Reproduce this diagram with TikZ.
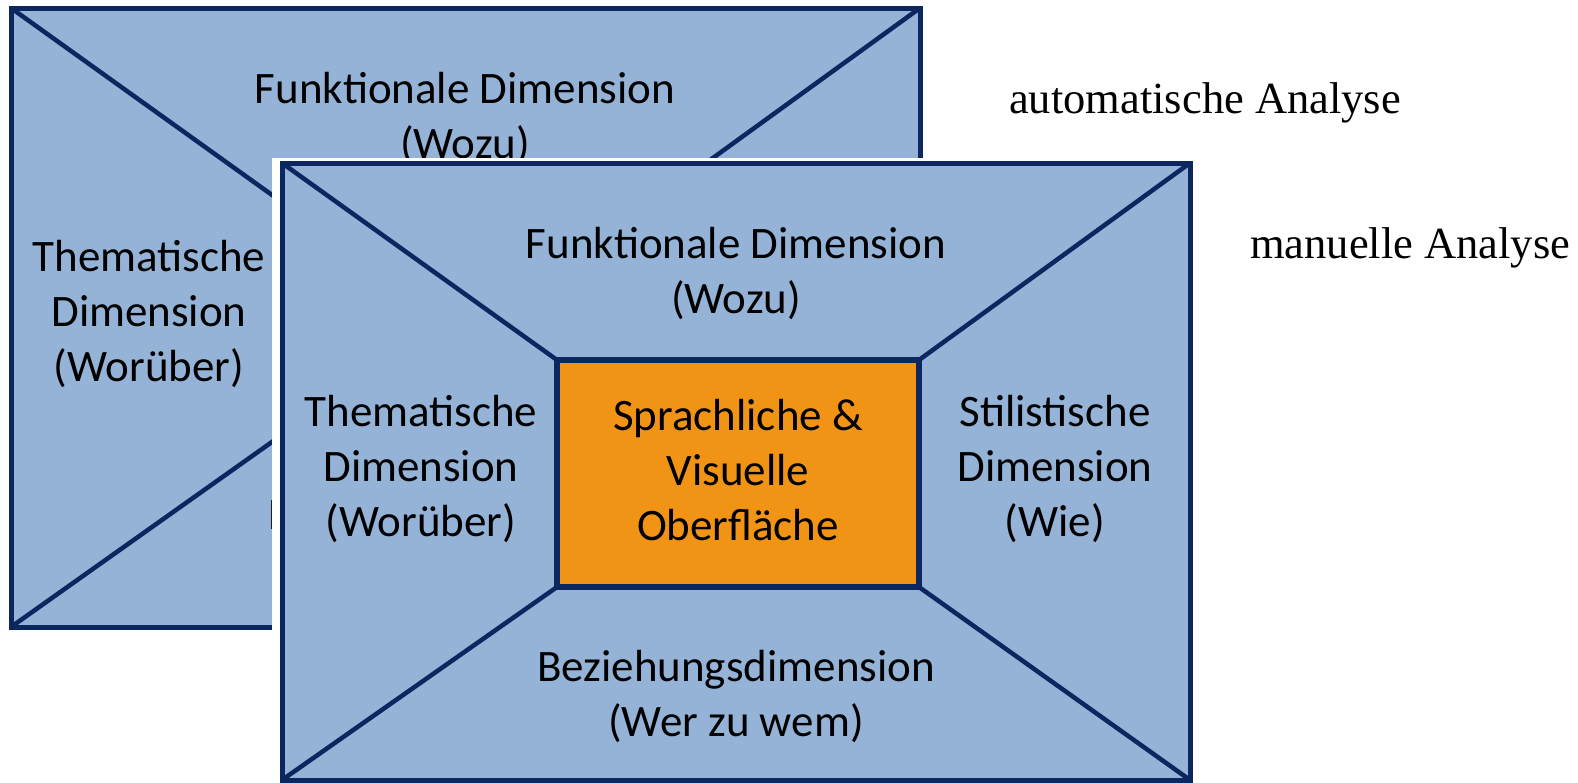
\documentclass[tikz,border=0pt]{standalone}
\usepackage{fontspec}
\setmainfont{Carlito}
\newfontfamily\labelfont{Liberation Serif}
\definecolor{dimfill}{RGB}{149,179,215}
\definecolor{dimline}{RGB}{12,38,96}
\definecolor{corefill}{RGB}{241,148,22}
\tikzset{
  frame/.style={draw=dimline, line width=5pt, fill=dimfill, inner sep=0pt, outer sep=0pt},
  coresize/.style={minimum width=362pt, minimum height=227pt, inner sep=0pt, outer sep=0pt},
  core/.style={draw=dimline, line width=5.5pt, fill=corefill},
  spoke/.style={draw=dimline, line width=4.5pt},
  dimtext/.style={align=center, font=\fontsize{45}{55}\selectfont, inner sep=0pt},
  sidelabel/.style={anchor=base west, font=\labelfont\fontsize{44.5}{50}\selectfont, inner sep=0pt}
}
\begin{document}
\begin{tikzpicture}[x=1pt, y=-1pt]
\useasboundingbox (0,0) rectangle (1578,782);

% rear diagram (automatic analysis)
\node[frame, minimum width=909pt, minimum height=619pt] (bo) at (465.5,317.5) {};
\node[coresize] (bi) at (467,318.5) {};
\draw[spoke] (bo.north west) -- (bi.north west);
\draw[spoke] (bo.north east) -- (bi.north east);
\draw[spoke] (bo.south west) -- (bi.south west);
\draw[spoke] (bo.south east) -- (bi.south east);
\draw[core] (bi.north west) rectangle (bi.south east);
\node[dimtext] (btop) at (465,118) {Funktionale Dimension\\(Wozu)};
\node[dimtext] (bleft) at (149,314) {Thematische\\Dimension\\(Worüber)};
\begin{scope}
  \clip (0,0) rectangle (272,782);
  \node[dimtext] (bbot) at (467,544) {Beziehungsdimension\\(Wer zu wem)};
\end{scope}

% white backing of the front diagram
\fill[white] (272,158) rectangle (1200,790);

% front diagram (manual analysis)
\node[frame, minimum width=908pt, minimum height=617pt] (fo) at (736,471.5) {};
\node[coresize] (fi) at (738,473.5) {};
\draw[spoke] (fo.north west) -- (fi.north west);
\draw[spoke] (fo.north east) -- (fi.north east);
\draw[spoke] (fo.south west) -- (fi.south west);
\draw[spoke] (fo.south east) -- (fi.south east);
\draw[core] (fi.north west) rectangle (fi.south east);
\node[dimtext] (fcore) at (738,470) {Sprachliche \&\\Visuelle\\Oberfläche};
\node[dimtext] (ftop) at (736,273) {Funktionale Dimension\\(Wozu)};
\node[dimtext] (fleft) at (421,469) {Thematische\\Dimension\\(Worüber)};
\node[dimtext] (fright) at (1055,469) {Stilistische\\Dimension\\(Wie)};
\node[dimtext] (fbot) at (736,696) {Beziehungsdimension\\(Wer zu wem)};

% labels of the two layers
\node[sidelabel] (lauto) at (1009,113) {automatische Analyse};
\node[sidelabel] (lman) at (1250,258) {manuelle Analyse};
\end{tikzpicture}
\end{document}
